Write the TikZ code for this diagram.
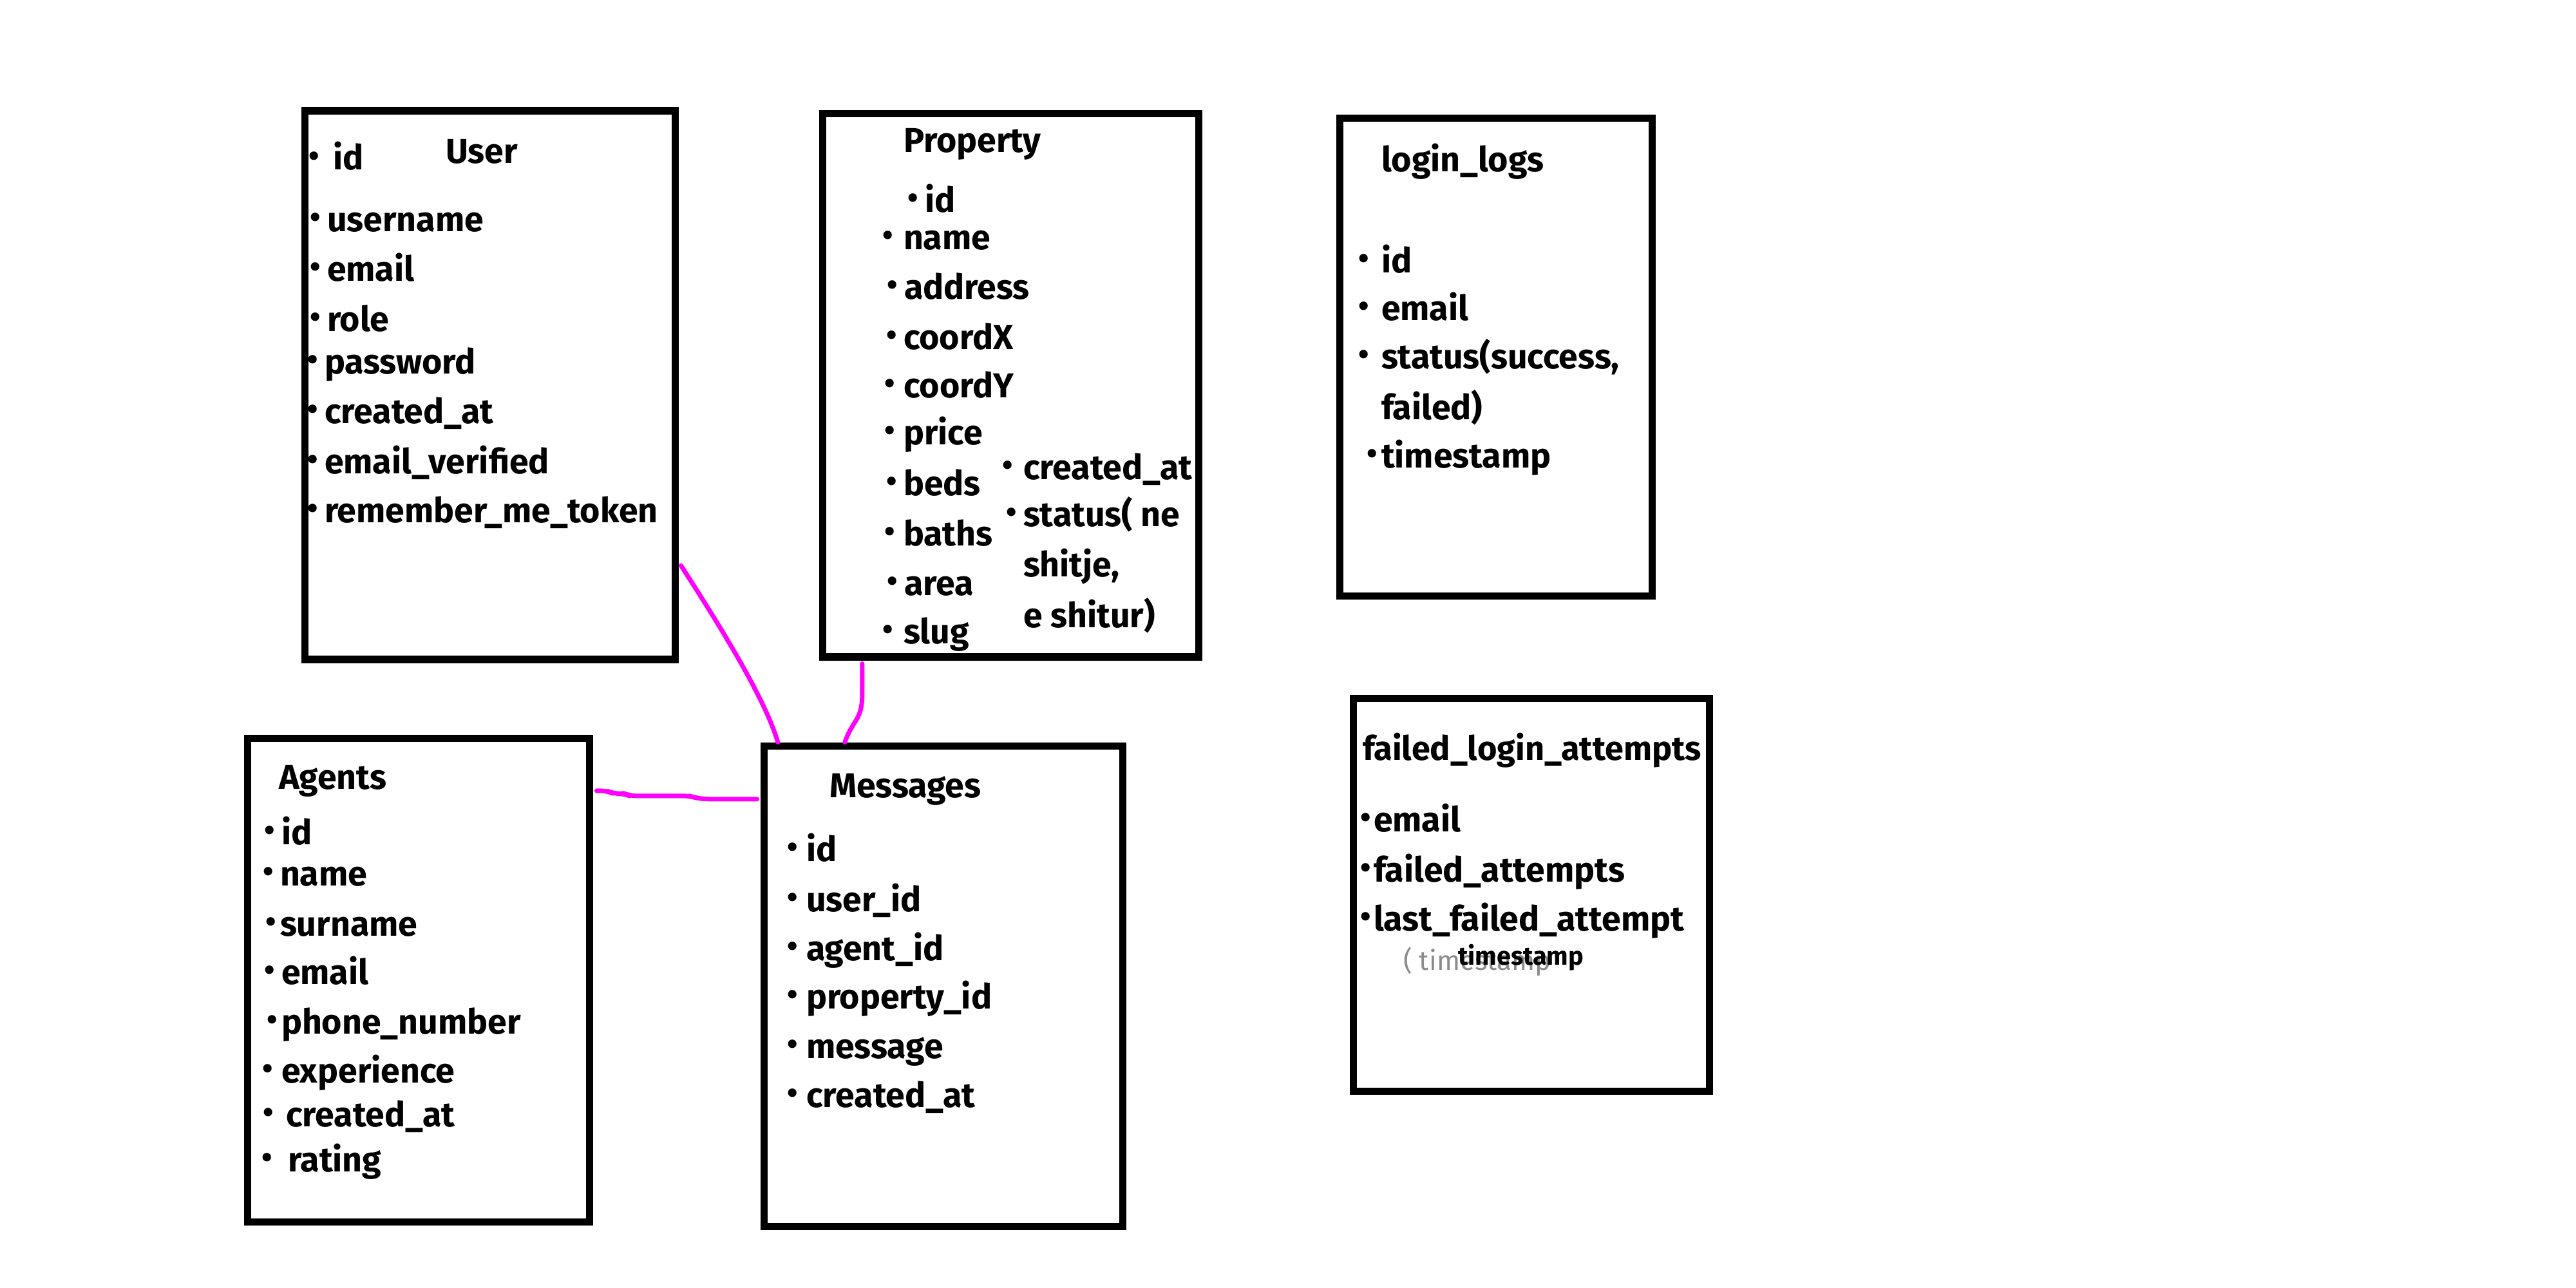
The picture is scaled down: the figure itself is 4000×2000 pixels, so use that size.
\documentclass[tikz,border=0pt]{standalone}
\usepackage{fontspec}
\setmainfont{Fira Sans}
\definecolor{mag}{HTML}{FF00FF}
\newcommand\bu[1][0.18em]{\llap{\raisebox{0.18ex}{\fontsize{13.5}{13.5}\selectfont •}\kern#1}}
\tikzset{
  tbl/.style={draw=black, line width=0.115cm, fill=none, inner sep=0pt},
  item/.style={anchor=base west, inner sep=0pt, outer sep=0pt, font=\fontsize{15.25}{18}\selectfont\bfseries},
  smallitem/.style={anchor=base west, inner sep=0pt, outer sep=0pt, font=\fontsize{11.3}{13}\selectfont\bfseries},
  scribble/.style={anchor=base west, inner sep=0pt, outer sep=0pt, text=black!45, font=\fontsize{12}{14}\selectfont},
  link/.style={draw=mag, line width=0.07cm, line cap=round, line join=round}
}
\begin{document}
\begin{tikzpicture}[x=0.01cm,y=-0.01cm]
\useasboundingbox[fill=white] (0,0) rectangle (4000,2000);

% tables
\node[tbl, minimum width=5.75cm, minimum height=8.51cm] (user) at (761,598) {};
\node[tbl, minimum width=5.84cm, minimum height=8.43cm] (prop) at (1569.5,598) {};
\node[tbl, minimum width=4.85cm, minimum height=7.42cm] (logs) at (2323,554.5) {};
\node[tbl, minimum width=5.53cm, minimum height=6.10cm] (fail) at (2378,1389.5) {};
\node[tbl, minimum width=5.31cm, minimum height=7.51cm] (agents) at (650,1522) {};
\node[tbl, minimum width=5.57cm, minimum height=7.46cm] (msgs) at (1465,1531.5) {};

% User
\node[item] (uT) at (692,253) {User};
\node[item] (u1) at (517,264) {\bu[0.4em]id};
\node[item] (u2) at (508,359) {\bu username};
\node[item] (u3) at (508,436) {\bu email};
\node[item] (u4) at (508,514) {\bu role};
\node[item] (u5) at (504,580) {\bu password};
\node[item] (u6) at (504,657) {\bu created\_at};
\node[item] (u7) at (504,735) {\bu email\_verified};
\node[item] (u8) at (504,811) {\bu remember\_me\_token};

% Property
\node[item] (pT) at (1403,236) {Property};
\node[item] (p1) at (1436,329) {\bu id};
\node[item] (p2) at (1403,387) {\bu[0.3em]name};
\node[item] (p3) at (1404,464) {\bu address};
\node[item] (p4) at (1403,542) {\bu coordX};
\node[item] (p5) at (1403,617) {\bu[0.25em]coordY};
\node[item] (p6) at (1403,690) {\bu[0.25em]price};
\node[item] (p7) at (1403,769) {\bu beds};
\node[item] (p8) at (1403,847) {\bu[0.25em]baths};
\node[item] (p9) at (1404,924) {\bu area};
\node[item] (p10) at (1403,999) {\bu[0.3em]slug};
\node[item] (p11) at (1589,744) {\bu[0.3em]created\_at};
\node[item] (p12) at (1589,817) {\bu status( ne};
\node[item] (p13) at (1589,895) {shitje,};
\node[item] (p14) at (1589,974) {e shitur)};

% login_logs
\node[item] (lT) at (2145,267) {login\_logs};
\node[item] (l1) at (2145,423) {\bu[0.35em]id};
\node[item] (l2) at (2145,497) {\bu[0.35em]email};
\node[item] (l3) at (2145,572) {\bu[0.35em]status(success,};
\node[item] (l4) at (2145,651) {failed)};
\node[item] (l5) at (2145,726) {\bu[0.12em]timestamp};

% failed_login_attempts
\node[item, font=\fontsize{14.85}{18}\selectfont\bfseries] (fT) at (2116,1180) {failed\_login\_attempts};
\node[item] (f1) at (2133,1291) {\bu[0.08em]email};
\node[item] (f2) at (2133,1369) {\bu[0.08em]failed\_attempts};
\node[item] (f3) at (2133,1445) {\bu[0.08em]last\_failed\_attempt};
\node[scribble] (f4) at (2179,1506) {( timestamp};
\node[smallitem] (f5) at (2264,1498) {timestamp};

% Agents
\node[item] (aT) at (433,1225) {Agents};
\node[item] (a1) at (437,1311) {\bu id};
\node[item] (a2) at (435,1375) {\bu name};
\node[item] (a3) at (435,1453) {\bu[0.12em]surname};
\node[item] (a4) at (437,1528) {\bu email};
\node[item] (a5) at (437,1605) {\bu[0.12em]phone\_number};
\node[item] (a6) at (437,1681) {\bu[0.25em]experience};
\node[item] (a7) at (444,1749) {\bu[0.35em]created\_at};
\node[item] (a8) at (447,1819) {\bu[0.45em]rating};

% Messages
\node[item] (mT) at (1288,1238) {Messages};
\node[item] (m1) at (1252,1337) {\bu[0.25em]id};
\node[item] (m2) at (1252,1415) {\bu[0.25em]user\_id};
\node[item] (m3) at (1252,1491) {\bu[0.25em]agent\_id};
\node[item] (m4) at (1252,1566) {\bu[0.25em]property\_id};
\node[item] (m5) at (1252,1643) {\bu[0.25em]message};
\node[item] (m6) at (1252,1719) {\bu[0.25em]created\_at};

% connectors
\draw[link] ([yshift=-2.8cm,xshift=0.03cm]user.east)
  .. controls +(45,70) and +(-22,-75) .. ([xshift=-2.57cm]msgs.north);
\draw[link] ([xshift=-2.305cm,yshift=-0.05cm]prop.south) -- ++(0,48)
  .. controls +(0,40) and +(12,-35) .. ([xshift=-1.53cm]msgs.north);
\draw[link, rounded corners=3pt] ([yshift=2.94cm,xshift=0.05cm]agents.east) -- ++(16,0) -- ++(11,5) -- ++(15,-1) -- ++(9,4)
  -- ++(93,0) -- ++(10,3) -- ++(13,2) -- ([yshift=2.905cm,xshift=-0.05cm]msgs.west);
\end{tikzpicture}
\end{document}
